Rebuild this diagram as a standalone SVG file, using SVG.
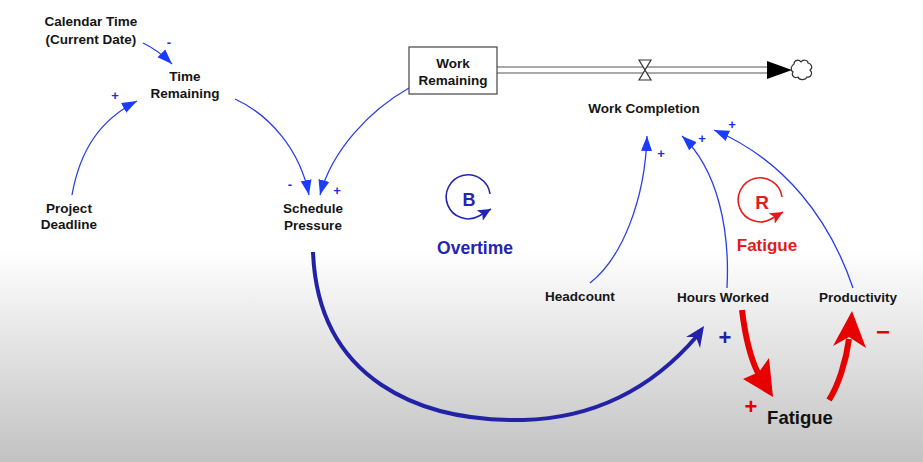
<svg xmlns="http://www.w3.org/2000/svg" width="923" height="462" viewBox="0 0 923 462">
<defs>
  <linearGradient id="bg" x1="0" y1="0" x2="0" y2="462" gradientUnits="userSpaceOnUse">
    <stop offset="0" stop-color="#ffffff"/>
    <stop offset="0.54" stop-color="#ffffff"/>
    <stop offset="1" stop-color="#c2c2c2"/>
  </linearGradient>
  <marker id="ah" markerUnits="userSpaceOnUse" markerWidth="16" markerHeight="12" refX="15" refY="6" orient="auto">
    <path d="M0,0.5 L15,6 L0,11.5 z" fill="#1a3cff"/>
  </marker>
  <marker id="ahB" markerUnits="userSpaceOnUse" markerWidth="14" markerHeight="12" refX="13" refY="6" orient="auto">
    <path d="M0,0 L13,6 L0,12 L3,6 z" fill="#2424b0"/>
  </marker>
  <marker id="ahR" markerUnits="userSpaceOnUse" markerWidth="14" markerHeight="12" refX="13" refY="6" orient="auto">
    <path d="M0,0 L13,6 L0,12 L3,6 z" fill="#e31b1b"/>
  </marker>
</defs>
<style>
  text { font-family: "Liberation Sans", Arial, sans-serif; font-weight: bold; }
  .lbl { font-size: 13.5px; fill: #151515; text-anchor: middle; }
  .sgn { font-size: 13px; fill: #1a2de0; text-anchor: middle; }
  .lnk { fill: none; stroke: #2a3ee6; stroke-width: 1.3; marker-end: url(#ah); }
</style>
<rect x="0" y="0" width="923" height="462" fill="url(#bg)"/>

<g id="connectors">
  <path class="lnk" d="M143,43 Q158,50 172,64"/>
  <path class="lnk" d="M72,195 C80,150 100,120 137,101"/>
  <path class="lnk" d="M235,99 C270,115 300,150 309,195"/>
  <path class="lnk" d="M409,88 C370,110 332,150 320,195"/>
  <path class="lnk" d="M590,283 C622,258 645,200 647,136"/>
  <path class="lnk" d="M727,288 C730,230 718,170 682,136"/>
  <path class="lnk" d="M853,288 C830,220 785,160 714,130"/>
  <!-- thick blue arc -->
  <path d="M313,252 C318,380 420,422 523,420 C600,418 655,385 697,336" fill="none" stroke="#2222a6" stroke-width="4"/>
  <polygon points="704,326 686,337 696,337 700,348" fill="#2222a6"/>
  <!-- thick red arrows -->
  <path d="M742,310 C745,335 749,355 758,373" fill="none" stroke="#e60000" stroke-width="6"/>
  <polygon points="773,397 743,379 759,372 769,358" fill="#e60000"/>
  <path d="M829,400 C838,386 846,362 849,339" fill="none" stroke="#e60000" stroke-width="6"/>
  <polygon points="852,311 833,346 849,337 866,348" fill="#e60000"/>
  <!-- stock flow pipe -->
  <line x1="497" y1="67" x2="770" y2="67" stroke="#555" stroke-width="1.2"/>
  <line x1="497" y1="73" x2="770" y2="73" stroke="#555" stroke-width="1.2"/>
  <path d="M639,60 L651,60 L639,80 L651,80 z" fill="#ffffff" stroke="#333" stroke-width="1.2"/>
  <polygon points="767,61 792,70 767,79" fill="#000"/>
  <path d="M794,64 C794,60 799,59 801,62 C803,59 808,60 808,63 C812,64 813,68 810,70 C813,73 811,78 807,77 C805,81 799,80 798,77 C794,79 791,75 793,72 C790,70 791,66 794,64 z" fill="#fff" stroke="#333" stroke-width="1.2"/>
</g>

<g id="calendar-time">
  <text class="lbl" x="91" y="26">Calendar Time</text>
  <text class="lbl" x="91" y="44">(Current Date)</text>
</g>
<text class="sgn" x="169" y="47">-</text>

<g id="time-remaining">
  <text class="lbl" x="185" y="81">Time</text>
  <text class="lbl" x="185" y="98">Remaining</text>
</g>
<text class="sgn" x="115" y="100">+</text>

<g id="project-deadline">
  <text class="lbl" x="69" y="213">Project</text>
  <text class="lbl" x="69" y="229">Deadline</text>
</g>

<g id="schedule-pressure">
  <text class="lbl" x="313" y="213">Schedule</text>
  <text class="lbl" x="313" y="230">Pressure</text>
</g>
<text class="sgn" x="290" y="189">-</text>
<text class="sgn" x="337" y="195">+</text>

<g id="work-remaining">
  <rect x="409" y="47" width="88" height="47" fill="#fff" stroke="#444" stroke-width="1.2"/>
  <text class="lbl" x="453" y="68">Work</text>
  <text class="lbl" x="453" y="85">Remaining</text>
</g>

<g id="work-completion">
  <text class="lbl" x="644" y="113">Work Completion</text>
</g>
<text class="sgn" x="661" y="158">+</text>
<text class="sgn" x="702" y="143">+</text>
<text class="sgn" x="732" y="129">+</text>

<g id="loop-b">
  <path d="M490,194 A22,22 0 1 0 479,216 L491,209" fill="none" stroke="#2424b0" stroke-width="1.6" marker-end="url(#ahB)"/>
  <text x="469" y="206" font-size="18" fill="#2424b0" text-anchor="middle">B</text>
  <text x="475" y="254" font-size="17.5" fill="#2424b0" text-anchor="middle">Overtime</text>
</g>

<g id="loop-r">
  <path d="M782,197 A22,22 0 1 0 771,219 L783,212" fill="none" stroke="#e31b1b" stroke-width="1.6" marker-end="url(#ahR)"/>
  <text x="762" y="209" font-size="19" fill="#e31b1b" text-anchor="middle">R</text>
  <text x="767" y="251" font-size="17" fill="#e31b1b" text-anchor="middle">Fatigue</text>
</g>

<g id="headcount">
  <text class="lbl" x="580" y="301">Headcount</text>
</g>
<g id="hours-worked">
  <text class="lbl" x="723" y="302">Hours Worked</text>
</g>
<g id="productivity">
  <text class="lbl" x="858" y="302">Productivity</text>
</g>
<g id="fatigue">
  <text x="800" y="424" font-size="18.5" fill="#111" text-anchor="middle">Fatigue</text>
</g>
<text x="725" y="345" font-size="22" fill="#2222a6" text-anchor="middle">+</text>
<text x="751" y="414" font-size="22" fill="#e60000" text-anchor="middle">+</text>
<text x="883" y="340" font-size="24" fill="#e60000" text-anchor="middle">−</text>
</svg>
